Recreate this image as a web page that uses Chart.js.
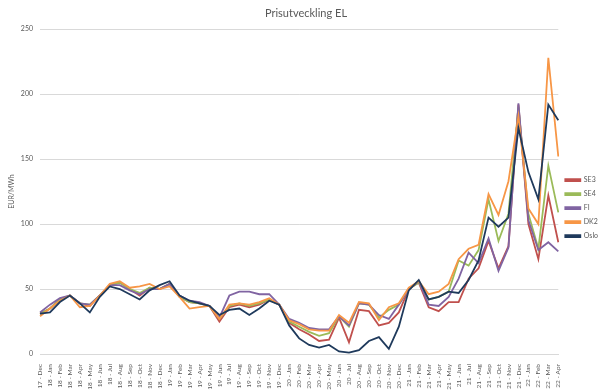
<!DOCTYPE html>
<html lang="sv">
<head>
<meta charset="UTF-8">
<title>Prisutveckling EL</title>
<script src="https://cdn.jsdelivr.net/npm/chart.js"></script>
<style>
  body { margin: 0; background: #fff; }
  #wrap { width: 600px; height: 390px; position: relative; }
</style>
</head>
<body>
<div id="wrap"><canvas id="prisChart"></canvas></div>
<script>
// months Dec 2017 - Apr 2022, EUR/MWh
const months = [
  '17 - Dec',
  '18 - Jan','18 - Feb','18 - Mar','18 - Apr','18 - May','18 - Jun','18 - Jul','18 - Aug','18 - Sep','18 - Oct','18 - Nov','18 - Dec',
  '19 - Jan','19 - Feb','19 - Mar','19 - Apr','19 - May','19 - Jun','19 - Jul','19 - Aug','19 - Sep','19 - Oct','19 - Nov','19 - Dec',
  '20 - Jan','20 - Feb','20 - Mar','20 - Apr','20 - May','20 - Jun','20 - Jul','20 - Aug','20 - Sep','20 - Oct','20 - Nov','20 - Dec',
  '21 - Jan','21 - Feb','21 - Mar','21 - Apr','21 - May','21 - Jun','21 - Jul','21 - Aug','21 - Sep','21 - Oct','21 - Nov','21 - Dec',
  '22 - Jan','22 - Feb','22 - Mar','22 - Apr'
];

const se3 = [31, 35,42,45,39,37,45,53,55,50,45,51,50, 54,44,40,39,37,25,36,38,36,38,42,38,
  24,19,15,10,11,28,9,34,33,22,24,32, 50,55,36,33,40,40,58,66,87,66,83,192, 100,73,122,86];
const se4 = [31, 35,42,45,39,38,45,53,55,50,47,51,50, 54,44,40,39,37,27,37,39,37,39,42,38,
  25,21,17,14,16,29,21,39,38,28,34,38, 50,55,42,44,48,72,68,80,119,87,108,190, 108,81,145,109];
const fi = [32, 38,43,45,39,38,45,53,53,49,46,50,50, 54,45,41,40,37,28,45,48,48,46,46,38,
  27,24,20,19,19,29,22,39,38,30,27,38, 50,56,38,37,44,58,78,70,89,64,82,193, 103,80,86,79];
const dk2 = [29, 35,41,45,36,37,45,54,56,51,52,54,50, 52,44,35,36,37,27,38,39,38,40,43,38,
  26,23,19,18,18,30,24,40,39,26,36,39, 51,56,46,48,54,73,81,84,123,107,133,183, 112,100,228,152];
const oslo = [31, 32,40,45,39,32,44,52,50,46,42,49,53, 56,45,41,39,37,30,34,35,30,35,41,38,
  22,12,7,5,7,2,1,3,10,13,4,21, 49,57,42,44,48,47,57,72,105,98,105,174, 140,119,192,180];

const seriesNames = ['SE3', 'SE4', 'FI', 'DK2', 'Oslo'];
const seriesData = [se3, se4, fi, dk2, oslo];
const seriesColors = ['#c0504d', '#9bbb59', '#8064a2', '#f79646', '#1f3a5c'];

const txt = '#595959';
const fontFam = 'Lato, "Liberation Sans", sans-serif';

// Excel draws the last series on top, so give later series a lower order
const datasets = seriesNames.map((name, i) => ({
  label: name,
  data: seriesData[i],
  borderColor: seriesColors[i],
  backgroundColor: seriesColors[i],
  borderWidth: 1.8,
  pointRadius: 0,
  tension: 0,
  order: seriesNames.length - i
}));

new Chart(document.getElementById('prisChart'), {
  type: 'line',
  data: { labels: months, datasets: datasets },
  options: {
    responsive: true,
    maintainAspectRatio: false,
    animation: false,
    layout: { padding: { left: 4, right: -8, bottom: 0 } },
    plugins: {
      title: {
        display: true,
        text: 'Prisutveckling EL',
        color: txt,
        font: { family: fontFam, size: 11, weight: 'normal' },
        padding: { top: 7, bottom: 9 }
      },
      legend: {
        position: 'right',
        title: { display: true, text: ' ', font: { size: 7 }, padding: { top: 18, bottom: 0 } },
        labels: {
          boxWidth: 15,
          boxHeight: 2,
          padding: 7,
          color: txt,
          font: { family: fontFam, size: 7 },
          sort: (a, b) => a.datasetIndex - b.datasetIndex
        }
      },
      tooltip: { enabled: false }
    },
    scales: {
      x: {
        grid: { display: false },
        border: { color: '#d9d9d9' },
        afterFit: (scale) => { scale.height = 36; },
        ticks: {
          color: txt,
          font: { family: fontFam, size: 6.5 },
          autoSkip: false,
          minRotation: 90,
          maxRotation: 90,
          padding: 2
        }
      },
      y: {
        min: 0,
        max: 250,
        afterFit: (scale) => { scale.width = 36; },
        ticks: { stepSize: 50, color: txt, font: { family: fontFam, size: 7 }, padding: 7 },
        grid: { color: '#d9d9d9', drawTicks: false },
        border: { display: false },
        title: {
          display: true,
          text: 'EUR/MWh',
          color: txt,
          font: { family: fontFam, size: 7 }
        }
      }
    }
  }
});
</script>
</body>
</html>
